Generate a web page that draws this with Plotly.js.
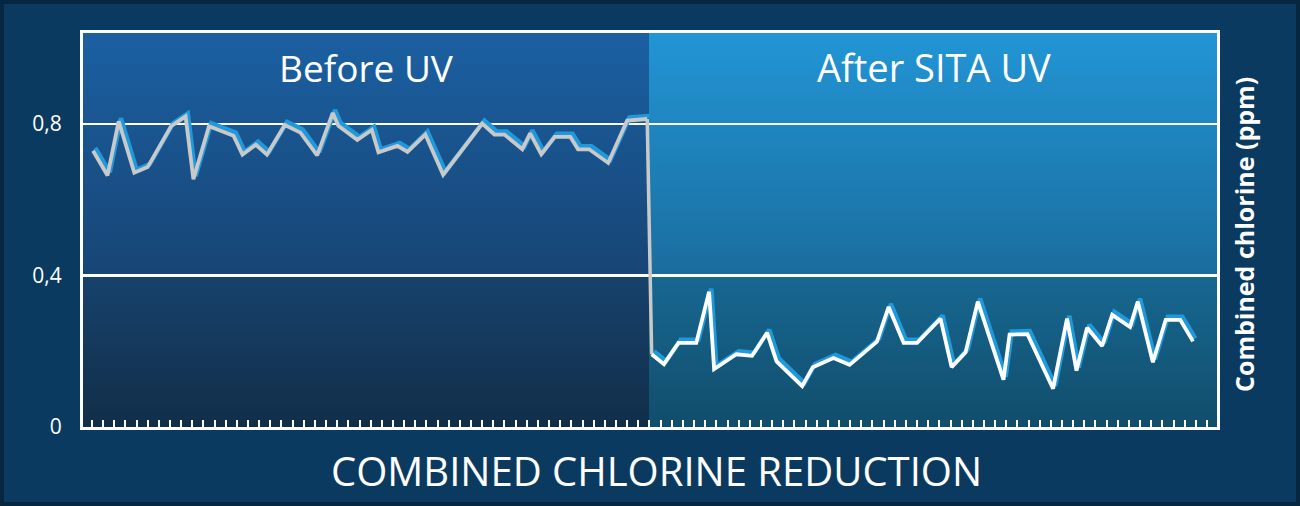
<!DOCTYPE html>
<html>
<head>
<meta charset="utf-8">
<script src="https://cdn.plot.ly/plotly-3.0.1.min.js"></script>
<style>
  html, body { margin: 0; padding: 0; background: #0b3a60; }
  #chart { width: 1300px; height: 506px; }
</style>
</head>
<body>
<div id="chart"></div>
<script>
// ---- Data ----
const beforeX = [0.1, 1.4, 2.4, 3.8, 5.0, 7.1, 8.4, 9.1, 10.5, 12.7, 13.5, 14.7, 15.7, 17.3, 18.7, 20.2, 21.6, 22.1, 23.8, 25.1, 25.7, 27.4, 28.3, 29.9, 31.5, 35.0, 36.1, 37.0, 38.6, 39.3, 40.3, 41.5, 42.9, 43.6, 44.6, 46.3, 48.0, 49.8];
const beforeY = [0.729, 0.664, 0.807, 0.671, 0.686, 0.794, 0.820, 0.654, 0.794, 0.769, 0.719, 0.745, 0.719, 0.797, 0.777, 0.717, 0.829, 0.795, 0.758, 0.784, 0.725, 0.742, 0.726, 0.772, 0.666, 0.801, 0.772, 0.772, 0.733, 0.775, 0.720, 0.766, 0.766, 0.733, 0.733, 0.697, 0.809, 0.813];
const afterX = [50.2, 51.3, 52.6, 54.2, 55.35, 55.8, 57.8, 59.2, 60.55, 61.4, 63.7, 64.65, 66.5, 67.95, 70.4, 71.45, 72.8, 74.0, 76.1, 77.1, 78.35, 79.45, 81.75, 82.3, 83.9, 86.2, 87.45, 88.3, 89.25, 90.6, 91.5, 93.1, 93.8, 95.15, 96.3, 97.6, 98.75];
const afterY = [0.192, 0.166, 0.222, 0.222, 0.357, 0.153, 0.192, 0.188, 0.249, 0.173, 0.108, 0.158, 0.182, 0.164, 0.225, 0.317, 0.222, 0.222, 0.286, 0.158, 0.197, 0.331, 0.125, 0.244, 0.245, 0.101, 0.286, 0.149, 0.262, 0.214, 0.296, 0.264, 0.331, 0.171, 0.283, 0.283, 0.226];
const yTickVals = [0, 0.4, 0.8];
const yTickText = ['0', '0,4', '0,8'];
const panelLabels = ['Before UV', 'After SITA UV'];
const chartTitle = 'COMBINED CHLORINE REDUCTION';
const yTitle = 'Combined chlorine (ppm)';

// ---- Layout constants ----
const W = 1300, H = 506;
const M = { l: 83, r: 83, t: 33, b: 79 };
const xRange = [-0.8, 100.9];
const yRange = [0, 1.04];
const splitX = 50;

function bgImage() {
  const pw = W - M.l - M.r, ph = H - M.t - M.b;
  const c = document.createElement('canvas');
  c.width = pw; c.height = ph;
  const g = c.getContext('2d');
  const sx = Math.round((splitX - xRange[0]) / (xRange[1] - xRange[0]) * pw);
  const sy = Math.round((yRange[1] - 0.4) / (yRange[1] - yRange[0]) * ph);
  function band(x0, x1, y0, y1, cTop, cBot) {
    const gr = g.createLinearGradient(0, y0, 0, y1);
    gr.addColorStop(0, cTop); gr.addColorStop(1, cBot);
    g.fillStyle = gr; g.fillRect(x0, y0, x1 - x0, y1 - y0);
  }
  band(0, sx, 0, sy, '#1b60a2', '#174575');
  band(0, sx, sy, ph, '#17426c', '#112e48');
  band(sx, pw, 0, sy, '#2295d5', '#1a6d9e');
  band(sx, pw, sy, ph, '#176892', '#114d6b');
  return c.toDataURL('image/png');
}

const shadowDx = 0.2, shadowDy = 0.008;
const shadowColor = '#1f98dc';

const traces = [
  { x: beforeX.map(v => v + shadowDx), y: beforeY.map(v => v + shadowDy), mode: 'lines',
    line: { color: shadowColor, width: 4.5 }, hoverinfo: 'skip' },
  { x: afterX.map(v => v + shadowDx), y: afterY.map(v => v + shadowDy), mode: 'lines',
    line: { color: shadowColor, width: 4.5 }, hoverinfo: 'skip' },
  { x: [beforeX[beforeX.length - 1], afterX[0]], y: [beforeY[beforeY.length - 1], afterY[0]], mode: 'lines',
    line: { color: '#c9c9c9', width: 3.5 }, hoverinfo: 'skip' },
  { x: beforeX, y: beforeY, mode: 'lines', name: 'Before UV',
    line: { color: '#c9c9c9', width: 3.8 } },
  { x: afterX, y: afterY, mode: 'lines', name: 'After SITA UV',
    line: { color: '#ffffff', width: 3.8 } }
];

const pw = W - M.l - M.r, ph = H - M.t - M.b;
const px = v => (v - M.l) / pw;       // page px -> paper x
const py = v => (H - M.b - v) / ph;   // page px -> paper y

const font = "'Open Sans', 'Noto Sans', sans-serif";

const layout = {
  width: W, height: H,
  margin: M,
  paper_bgcolor: '#0b3a60',
  plot_bgcolor: 'rgba(0,0,0,0)',
  showlegend: false,
  font: { family: font, color: '#ffffff' },
  xaxis: {
    range: xRange, showgrid: false, zeroline: false,
    showline: true, mirror: true, linecolor: '#ffffff', linewidth: 3,
    ticks: 'inside', tick0: 0, dtick: 1, ticklen: 7, tickwidth: 2, tickcolor: '#ffffff',
    showticklabels: false, fixedrange: true
  },
  yaxis: {
    range: yRange, tickmode: 'array', tickvals: yTickVals, ticktext: yTickText,
    showgrid: true, gridcolor: '#ffffff', gridwidth: 2.5, zeroline: false,
    showline: true, mirror: true, linecolor: '#ffffff', linewidth: 3,
    ticks: '', ticklabelstandoff: 14,
    tickfont: { family: font, size: 21, color: '#ffffff' }, fixedrange: true
  },
  images: [{
    source: bgImage(), xref: 'paper', yref: 'paper', x: 0, y: 1,
    sizex: 1, sizey: 1, sizing: 'stretch', xanchor: 'left', yanchor: 'top', layer: 'below'
  }],
  shapes: [{
    type: 'rect', xref: 'paper', yref: 'paper',
    x0: px(0), x1: px(W), y0: py(H), y1: py(0),
    line: { color: '#072741', width: 8 }, fillcolor: 'rgba(0,0,0,0)', layer: 'below'
  }],
  annotations: [
    { text: panelLabels[0], xref: 'paper', yref: 'paper', x: 0.25, y: py(67),
      xanchor: 'center', yanchor: 'middle', showarrow: false,
      font: { family: font, size: 37, color: '#ffffff' } },
    { text: panelLabels[1], xref: 'paper', yref: 'paper', x: 0.75, y: py(67),
      xanchor: 'center', yanchor: 'middle', showarrow: false,
      font: { family: font, size: 38, color: '#ffffff' } },
    { text: chartTitle, xref: 'paper', yref: 'paper', x: px(656), y: py(470),
      xanchor: 'center', yanchor: 'middle', showarrow: false,
      font: { family: font, size: 40, color: '#ffffff' } },
    { text: '<b>' + yTitle + '</b>', xref: 'paper', yref: 'paper', x: px(1244), y: py(235),
      xanchor: 'center', yanchor: 'middle', showarrow: false, textangle: -90,
      font: { family: font, size: 25, color: '#ffffff' } }
  ]
};

Plotly.newPlot('chart', traces, layout, { displayModeBar: false, staticPlot: true });
</script>
</body>
</html>
